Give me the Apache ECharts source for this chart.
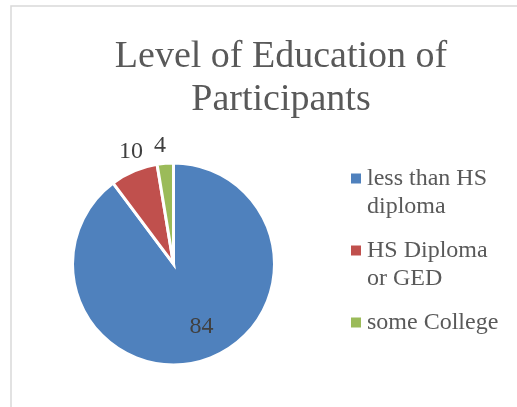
<!DOCTYPE html>
<html>
<head>
<meta charset="utf-8">
<script src="https://cdn.jsdelivr.net/npm/echarts@6/dist/echarts.min.js"></script>
<style>
html, body { margin: 0; padding: 0; background: #ffffff; }
#chart { width: 517px; height: 407px; }
</style>
</head>
<body>
<div id="chart"></div>
<script>
// ---- data ----
const titleText = 'Level of Education of\nParticipants';
const categories = ['less than HS diploma', 'HS Diploma or GED', 'some College'];
// numbers printed on the slices
const labelValues = [84, 10, 4];
// slice sizes (percent of the circle)
const sliceShares = [89.8, 7.6, 2.6];
const legendLabels = ['less than HS\ndiploma', 'HS Diploma\nor GED', 'some College'];
const colors = ['#4f81bd', '#c0504d', '#9bbb59'];

// ---- style / layout helpers (not data) ----
const labelPositions = ['inside', 'outside', 'outside'];
const labelShift = [[11.1, 11.7], [9.0, -19.1], [0.7, -17.3]];
const FONT = "'Liberation Serif', 'DejaVu Serif', serif";
const LEGEND_LH = 28;
const MAX_LINES = 2;

// pad each legend label so that its first line sits level with the square
function padLegend(text) {
  const lines = text.split('\n');
  const before = new Array(MAX_LINES - 1).fill('');
  const total = 2 * MAX_LINES - 1;
  const out = before.concat(lines);
  while (out.length < total) out.push('');
  return out.join('\n');
}

const chart = echarts.init(document.getElementById('chart'), null, { renderer: 'canvas' });

const option = {
  animation: false,
  backgroundColor: '#ffffff',
  graphic: [{
    type: 'rect',
    silent: true,
    shape: { x: 11, y: 6, width: 700, height: 600 },
    style: { fill: 'none', stroke: '#d9d9d9', lineWidth: 1.5 }
  }],
  title: {
    text: titleText,
    left: 281,
    top: 35.5,
    padding: 0,
    textAlign: 'center',
    textStyle: {
      fontFamily: FONT,
      fontSize: 38,
      fontWeight: 'normal',
      color: '#595959',
      lineHeight: 43
    }
  },
  legend: {
    orient: 'vertical',
    left: 349,
    top: 136.5,
    padding: 0,
    itemGap: -12,
    itemWidth: 12,
    itemHeight: 12,
    icon: 'rect',
    selectedMode: false,
    data: categories,
    formatter: name => padLegend(legendLabels[categories.indexOf(name)]),
    textStyle: {
      fontFamily: FONT,
      fontSize: 24,
      color: '#595959',
      lineHeight: LEGEND_LH
    }
  },
  series: [{
    type: 'pie',
    center: [173.5, 264],
    radius: 101,
    startAngle: 90,
    clockwise: true,
    avoidLabelOverlap: false,
    selectedMode: false,
    emphasis: { disabled: true },
    itemStyle: { borderColor: '#ffffff', borderWidth: 3, borderJoin: 'miter' },
    label: {
      show: true,
      formatter: params => String(labelValues[params.dataIndex]),
      fontFamily: FONT,
      fontSize: 24,
      color: '#404040',
      distanceToLabelLine: 0
    },
    labelLine: { show: false, length: 0, length2: 0 },
    labelLayout: params => ({ dx: labelShift[params.dataIndex][0], dy: labelShift[params.dataIndex][1] }),
    data: categories.map((c, i) => ({
      name: c,
      value: sliceShares[i],
      itemStyle: { color: colors[i] },
      label: { position: labelPositions[i] }
    }))
  }]
};

chart.setOption(option);
</script>
</body>
</html>
